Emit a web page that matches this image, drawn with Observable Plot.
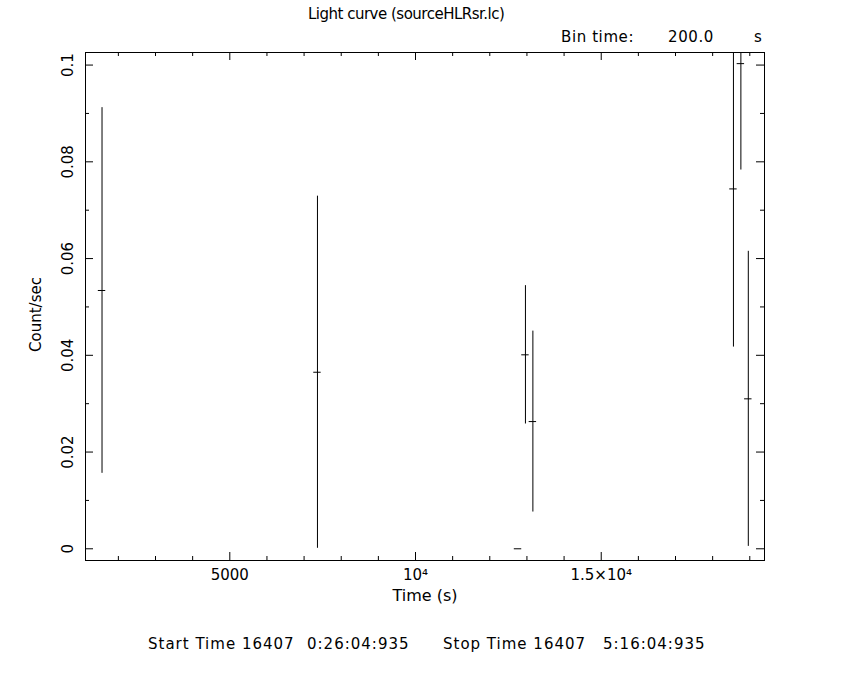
<!DOCTYPE html>
<html><head><meta charset="utf-8">
<script src="https://cdn.jsdelivr.net/npm/d3@7"></script>
<script src="https://cdn.jsdelivr.net/npm/@observablehq/plot@0.6"></script>
<style>
body{margin:0;background:#fff;}
#wrap{position:relative;width:850px;height:680px;font-family:"DejaVu Sans",sans-serif;color:#000;background:#fff;}
#wrap svg{position:absolute;left:0;top:0;}
.t{position:absolute;font-size:14px;line-height:14px;white-space:pre;}
</style></head><body>
<div id="wrap"></div>
<script>
// ---- data ----
const time = [1560, 7360, 12760, 12960, 13160, 18560, 18760, 18960];
const rate = [0.0534, 0.0365, 0, 0.0401, 0.0263, 0.0744, 0.1003, 0.0310];
const rateErr = [0.0378, 0.0364, 0, 0.0143, 0.0187, 0.0327, 0.0220, 0.0305];
const binTime = 200;
const xMajor = [5000, 10000, 15000];
const xMajorLabels = ["5000", "10\u2074", "1.5\u00d710\u2074"];
const xMinor = [2000, 3000, 4000, 6000, 7000, 8000, 9000, 11000, 12000, 13000, 14000, 16000, 17000, 18000, 19000];
const yMajor = [0, 0.02, 0.04, 0.06, 0.08, 0.1];
const yMajorLabels = ["0", "0.02", "0.04", "0.06", "0.08", "0.1"];
const yMinor = [0.01, 0.03, 0.05, 0.07, 0.09];
const titleText = "Light curve (sourceHLRsr.lc)";
const binLabel = ["Bin time:", "200.0", "s"];
const captionParts = ["Start Time 16407", "0:26:04:935", "Stop Time 16407", "5:16:04:935"];
const xLabel = "Time (s)";
const yLabel = "Count/sec";

const rows = time.map((t, i) => ({t, r: rate[i], e: rateErr[i]}));

// ---- layout ----
const W = 850, H = 680;
const mL = 85, mR = 86, mT = 52, mB = 120;
const fw = W - mL - mR, fh = H - mT - mB;
const major = 8, minor = 4;
const font = "DejaVu Sans";

const tickMarks = [
  Plot.tickX(xMajor, {x: d => d, insetTop: fh - major, stroke: "black"}),
  Plot.tickX(xMajor, {x: d => d, insetBottom: fh - major, stroke: "black"}),
  Plot.tickX(xMinor, {x: d => d, insetTop: fh - minor, stroke: "black"}),
  Plot.tickX(xMinor, {x: d => d, insetBottom: fh - minor, stroke: "black"}),
  Plot.tickY(yMajor, {y: d => d, insetRight: fw - major, stroke: "black"}),
  Plot.tickY(yMajor, {y: d => d, insetLeft: fw - major, stroke: "black"}),
  Plot.tickY(yMinor, {y: d => d, insetRight: fw - minor, stroke: "black"}),
  Plot.tickY(yMinor, {y: d => d, insetLeft: fw - minor, stroke: "black"})
];

const chart = Plot.plot({
  width: W, height: H,
  marginLeft: mL, marginRight: mR, marginTop: mT, marginBottom: mB,
  style: {fontFamily: font, fontSize: "15px", background: "white", color: "black"},
  x: {domain: [1115, 19396], axis: null},
  y: {domain: [-0.00242, 0.1026], axis: null},
  marks: [
    ...tickMarks,
    Plot.ruleX(rows, {x: "t", y1: d => Math.max(0, d.r - d.e), y2: d => d.r + d.e, stroke: "black", clip: true}),
    Plot.ruleY(rows, {y: "r", x1: d => d.t - binTime / 2, x2: d => d.t + binTime / 2, stroke: "black", clip: true}),
    Plot.frame({stroke: "black"}),
    Plot.text(xMajor, {x: d => d, text: (d, i) => xMajorLabels[i], frameAnchor: "bottom", dy: 19, fontSize: 15, fill: "black"}),
    Plot.text(yMajor, {y: d => d, text: (d, i) => yMajorLabels[i], frameAnchor: "left", dx: -17, rotate: -90, textAnchor: "middle", fontSize: 15, fill: "black"}),
    Plot.text([xLabel], {text: d => d, frameAnchor: "bottom", dy: 40, fontSize: 16, fill: "black"}),
    Plot.text([yLabel], {text: d => d, frameAnchor: "left", dx: -49, dy: 8, rotate: -90, textAnchor: "middle", fontSize: 15, fill: "black"})
  ]
});

const wrap = document.getElementById("wrap");
wrap.appendChild(chart);

function addText(str, left, top, extra) {
  const d = document.createElement("div");
  d.className = "t";
  d.textContent = str;
  d.style.left = left + "px";
  d.style.top = top + "px";
  if (extra) Object.assign(d.style, extra);
  wrap.appendChild(d);
}
addText(titleText, 308, 7, {fontSize: "15px", lineHeight: "15px", letterSpacing: "-0.5px"});
const binStyle = {fontSize: "15px", lineHeight: "15px", letterSpacing: "0.6px"};
addText(binLabel[0], 561, 30, binStyle);
addText(binLabel[1], 668, 30, binStyle);
addText(binLabel[2], 754, 30, binStyle);
const capStyle = {fontSize: "15px", lineHeight: "15px", letterSpacing: "1px"};
addText(captionParts[0], 148, 637, capStyle);
addText(captionParts[1], 307, 637, capStyle);
addText(captionParts[2], 443, 637, capStyle);
addText(captionParts[3], 603, 637, capStyle);
</script>
</body></html>
